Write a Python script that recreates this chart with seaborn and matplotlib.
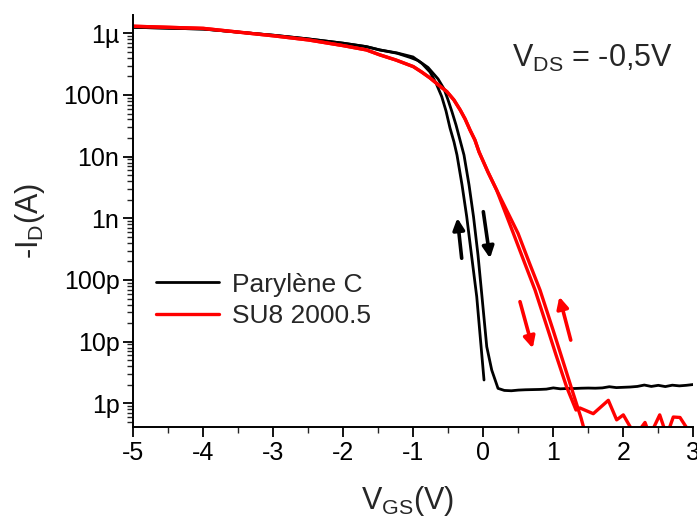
import matplotlib
matplotlib.use("Agg")
import matplotlib.pyplot as plt
import seaborn as sns
import pandas as pd
import numpy as np
from matplotlib.ticker import LogLocator, NullFormatter

# ---- data (V_GS in V, -I_D in A) ----
# Parylene C: on-state part shared by both sweeps
v_par_on = [-5.0, -4.0, -3.0, -2.5, -2.0, -1.67, -1.48]
i_par_on = [1.25e-6, 1.17e-6, 9.3e-7, 8.1e-7, 6.9e-7, 6.07e-7, 5.37e-7]
# forward sweep (down arrow)
v_par_fwd = [-1.233, -1.047, -0.933, -0.79, -0.647, -0.561, -0.504, -0.447, -0.39, -0.333, -0.276, -0.204,
             -0.140, -0.076, -0.019, 0.049, 0.120, 0.210]
i_par_fwd = [4.75e-7, 4.06e-7, 3.62e-7, 2.79e-7, 1.82e-7, 1.25e-7, 8.3e-8, 5.3e-8, 3.26e-8, 1.86e-8, 1.06e-8,
             3.47e-9, 1.06e-9, 2.54e-10, 5.36e-11, 8.3e-12, 3.47e-12, 1.75e-12]
v_par_off = [0.3, 0.4, 0.5, 0.6, 0.7, 0.8, 0.9, 1.0, 1.1, 1.2, 1.3, 1.4, 1.5, 1.6, 1.7, 1.8, 1.9, 2.0,
             2.1, 2.2, 2.3, 2.4, 2.5, 2.6, 2.7, 2.8, 2.9, 3.0]
i_par_off = [1.62e-12, 1.60e-12, 1.64e-12, 1.66e-12, 1.67e-12, 1.68e-12, 1.70e-12, 1.78e-12, 1.72e-12, 1.74e-12,
             1.74e-12, 1.76e-12, 1.77e-12, 1.76e-12, 1.78e-12, 1.86e-12, 1.80e-12, 1.82e-12, 1.84e-12, 1.88e-12,
             1.98e-12, 1.88e-12, 1.96e-12, 1.87e-12, 1.97e-12, 1.92e-12, 1.96e-12, 2.02e-12]
# reverse sweep (up arrow)
v_par_rev = [0.010, -0.040, -0.094, -0.169, -0.237, -0.304, -0.376, -0.419, -0.476, -0.533, -0.594, -0.676,
             -0.761, -0.876, -1.004, -1.233]
i_par_rev = [2.39e-12, 1.06e-11, 5.36e-11, 2.54e-10, 1.06e-9, 3.47e-9, 1.06e-8, 1.73e-8, 2.91e-8, 5.5e-8,
             9.4e-8, 1.56e-7, 2.35e-7, 3.24e-7, 4.13e-7, 4.8e-7]

# SU8 2000.5
v_su8_on = [-5.0, -4.0, -3.0, -2.5, -2.0, -1.67, -1.48, -1.25, -1.0, -0.88, -0.76, -0.64, -0.52, -0.42, -0.33,
            -0.26, -0.19, -0.12, -0.061, 0.067, 0.19]
i_su8_on = [1.30e-6, 1.20e-6, 9.1e-7, 7.8e-7, 6.3e-7, 5.37e-7, 4.47e-7, 3.69e-7, 2.88e-7, 2.35e-7, 1.88e-7,
            1.45e-7, 1.13e-7, 8.3e-8, 5.7e-8, 4.07e-8, 2.70e-8, 1.86e-8, 1.19e-8, 5.6e-9, 2.88e-9]
v_su8_fwd = [0.429, 0.591, 0.739, 0.924, 1.039, 1.189, 1.324]
i_su8_fwd = [5.71e-10, 1.88e-10, 6.87e-11, 1.55e-11, 6.07e-12, 1.86e-12, 7.8e-13]
v_su8_off = [1.381, 1.571, 1.786, 1.905, 2.0, 2.096, 2.19, 2.31, 2.38, 2.52, 2.62, 2.714, 2.81, 2.906, 3.0]
i_su8_off = [8.4e-13, 6.8e-13, 1.12e-12, 5.4e-13, 6.5e-13, 4.2e-13, 3.2e-13, 4.9e-13, 3.0e-13, 6.5e-13,
             3.0e-13, 6.0e-13, 5.9e-13, 4.0e-13, 3.0e-13]
v_su8_rev = [1.467, 1.396, 1.253, 1.11, 0.996, 0.81, 0.659, 0.496]
i_su8_rev = [2.95e-13, 5.8e-13, 1.86e-12, 6.07e-12, 1.55e-11, 6.87e-11, 1.88e-10, 5.71e-10]

y_ticks = [1e-12, 1e-11, 1e-10, 1e-9, 1e-8, 1e-7, 1e-6]
y_tick_labels = ["1p", "10p", "100p", "1n", "10n", "100n", "1µ"]
x_ticks = [-5, -4, -3, -2, -1, 0, 1, 2, 3]

# sweep direction arrows (tail -> head)
arrows = [
    ("black", (-0.309, 2.25e-10), (-0.371, 1.01e-9)),
    ("black", (0.0, 1.28e-9), (0.096, 2.25e-10)),
    ("#ff0000", (0.524, 4.45e-11), (0.706, 7.8e-12)),
    ("#ff0000", (1.249, 1.06e-11), (1.086, 5.36e-11)),
]


def sweep(sample, name, v, i):
    return pd.DataFrame({"V": v, "I": i, "sample": sample, "sweep": name})


df = pd.concat([
    sweep("Parylène C", "p_fwd", v_par_on + v_par_fwd + v_par_off, i_par_on + i_par_fwd + i_par_off),
    sweep("Parylène C", "p_rev", v_par_rev + v_par_on[::-1], i_par_rev + i_par_on[::-1]),
    sweep("SU8 2000.5", "s_fwd", v_su8_on + v_su8_fwd + v_su8_off, i_su8_on + i_su8_fwd + i_su8_off),
    sweep("SU8 2000.5", "s_rev", v_su8_rev + v_su8_on[::-1], i_su8_rev + i_su8_on[::-1]),
], ignore_index=True)

sns.set_style("ticks")
plt.rcParams["font.family"] = ["Liberation Sans", "DejaVu Sans"]
plt.rcParams["mathtext.fontset"] = "custom"
plt.rcParams["mathtext.rm"] = "Liberation Sans"
plt.rcParams["mathtext.it"] = "Liberation Sans:italic"
plt.rcParams["axes.unicode_minus"] = False

fig, ax = plt.subplots(figsize=(6.97, 5.2), dpi=100)
plt.subplots_adjust(left=0.1913, right=0.9947, top=0.9712, bottom=0.1794)

sns.lineplot(data=df, x="V", y="I", hue="sample", size="sample", units="sweep", estimator=None, sort=False,
             palette={"Parylène C": "black", "SU8 2000.5": "#ff0000"},
             sizes={"Parylène C": 2.0, "SU8 2000.5": 2.4},
             hue_order=["Parylène C", "SU8 2000.5"], ax=ax)

ax.set_yscale("log")
ax.set_xlim(-5, 3)
ax.set_ylim(4.18e-13, 1.98e-6)
ax.set_xticks(x_ticks)
ax.set_xticks(np.arange(-4.5, 3, 1.0), minor=True)
ax.set_yticks(y_ticks, y_tick_labels)
ax.yaxis.set_minor_locator(LogLocator(base=10, subs=np.arange(2, 10), numticks=100))
ax.yaxis.set_minor_formatter(NullFormatter())
ax.tick_params(which="major", direction="out", length=7, width=1.3, labelsize=18, colors="black", pad=3)
ax.tick_params(which="minor", direction="out", length=4, width=1.0)
sns.despine(ax=ax)
for s in ["left", "bottom"]:
    ax.spines[s].set_linewidth(1.4)
    ax.spines[s].set_color("black")

ax.set_xlabel(r"V$_\mathregular{GS}$(V)", fontsize=22)
ax.set_ylabel(r"-I$_\mathregular{D}$(A)", fontsize=22)
ax.xaxis.set_label_coords(0.49, -0.14)
ax.yaxis.set_label_coords(-0.154, 0.5)

for color, tail, head in arrows:
    ax.annotate("", xy=head, xytext=tail,
                arrowprops=dict(arrowstyle="-|>", color=color, lw=2.6, mutation_scale=17,
                                shrinkA=0, shrinkB=0))

ax.text(0.41, 2.88e-7, r"V$_\mathregular{DS}$ = -0,5V", fontsize=22, va="baseline", ha="left")

handles, labels = ax.get_legend_handles_labels()
ax.legend(handles, labels, loc="center left", bbox_to_anchor=(0.021, 0.3065), frameon=False,
          fontsize=19, handlelength=2.4, handletextpad=0.5, labelspacing=0.3, borderaxespad=0)

fig.savefig("out.png", dpi=100)
